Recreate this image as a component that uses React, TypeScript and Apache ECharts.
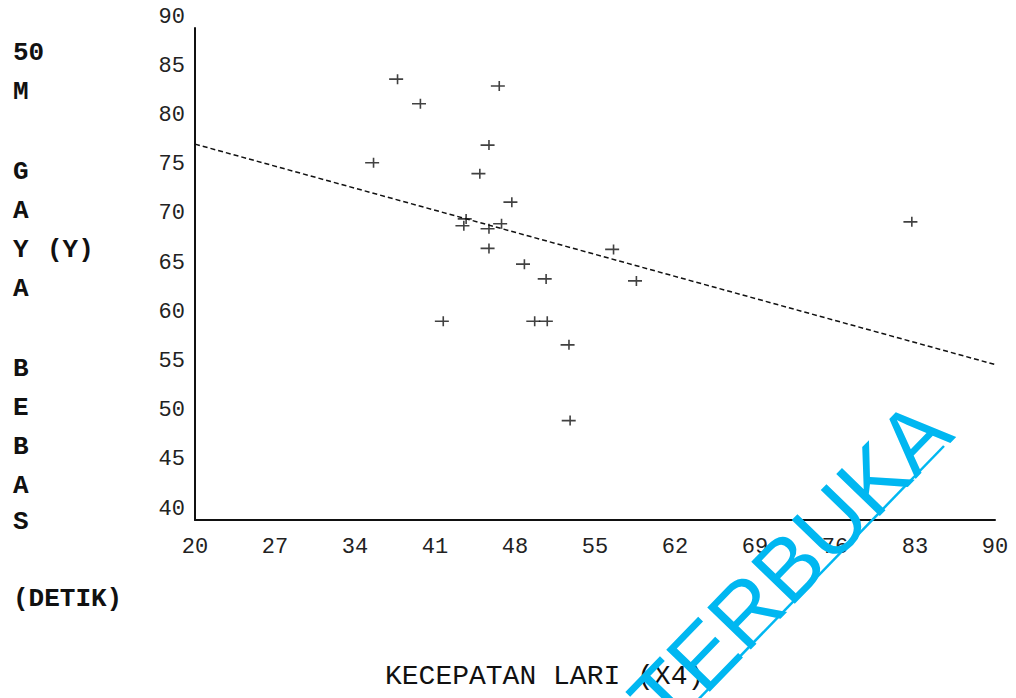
import React, { useEffect, useRef } from "react";
import * as echarts from "echarts";

const xTicks = [20, 27, 34, 41, 48, 55, 62, 69, 76, 83, 90];
const yTicks = [40, 45, 50, 55, 60, 65, 70, 75, 80, 85, 90];

const speedX = [
  37.6, 46.5, 39.6, 45.6, 35.5, 44.8, 47.6, 43.6, 43.4, 45.6, 46.7,
  45.6, 48.7, 50.6, 41.6, 49.6, 50.7, 52.6, 52.7, 56.5, 58.5, 82.6,
];
const swimY = [
  84.8, 84.1, 82.3, 78.1, 76.3, 75.2, 72.3, 70.6, 69.9, 69.6, 70.1,
  67.6, 66.0, 64.5, 60.2, 60.2, 60.2, 57.8, 50.1, 67.5, 64.3, 70.3,
];
const regX = [20, 90];
const regY = [78.2, 55.8];

const leftLetters = [
  { t: "50", y: 52 },
  { t: "M", y: 91 },
  { t: "G", y: 171 },
  { t: "A", y: 210 },
  { t: "Y", y: 249 },
  { t: "A", y: 288 },
  { t: "B", y: 368 },
  { t: "E", y: 407 },
  { t: "B", y: 446 },
  { t: "A", y: 485 },
  { t: "S", y: 521 },
  { t: "(DETIK)", y: 598 },
];

const plusPath =
  "path://M0,4.2L14,4.2L14,5.8L0,5.8Z M7.6,0L9.2,0L9.2,10L7.6,10Z";

export default function App() {
  const ref = useRef<HTMLDivElement>(null);
  useEffect(() => {
    if (!ref.current) return;
    const chart = echarts.init(ref.current, null, { renderer: "svg" });
    const mono = "'Liberation Mono', 'DejaVu Sans Mono', monospace";
    const graphics: any[] = leftLetters.map((l) => ({
      type: "text",
      left: 13,
      top: l.y - 12,
      style: {
        text: l.t,
        font: `bold 26px ${mono}`,
        fill: "#111",
      },
    }));
    graphics.push({
      type: "text",
      left: 47,
      top: 249 - 12,
      style: { text: "(Y)", font: `bold 26px ${mono}`, fill: "#111" },
    });
    graphics.push({
      type: "text",
      left: 385,
      top: 662,
      style: {
        text: "KECEPATAN LARI (X4)",
        font: `28px ${mono}`,
        fill: "#111",
      },
    });
    graphics.push({
      type: "text",
      x: 790,
      y: 565,
      rotation: (46 * Math.PI) / 180,
      style: {
        text: "TERBUKA",
        font: "88px 'Liberation Sans', Arial, sans-serif",
        fill: "#00b7f1",
        textAlign: "center",
        textVerticalAlign: "middle",
      },
      z: 100,
    });
    graphics.push({
      type: "line",
      shape: { x1: 690, y1: 708, x2: 944, y2: 446 },
      style: { stroke: "#00b7f1", lineWidth: 2.5 },
      z: 100,
    });

    chart.setOption({
      animation: false,
      backgroundColor: "#fff",
      grid: { left: 195, right: 21, top: 28, bottom: 178 },
      xAxis: {
        type: "value",
        min: xTicks[0],
        max: xTicks[xTicks.length - 1],
        interval: 7,
        axisLine: { show: true, lineStyle: { color: "#111", width: 2 } },
        axisTick: { show: false },
        splitLine: { show: false },
        axisLabel: {
          margin: 16,
          fontFamily: mono,
          fontSize: 22,
          color: "#222",
          formatter: (v: number) => (xTicks.includes(v) ? String(v) : ""),
        },
      },
      yAxis: {
        type: "value",
        min: yTicks[0],
        max: yTicks[yTicks.length - 1],
        interval: 5,
        axisLine: { show: true, lineStyle: { color: "#111", width: 2 } },
        axisTick: { show: false },
        splitLine: { show: false },
        axisLabel: {
          margin: 10,
          fontFamily: mono,
          fontSize: 22,
          color: "#222",
          verticalAlign: "bottom",
          formatter: (v: number) => (yTicks.includes(v) ? String(v) : ""),
        },
      },
      series: [
        {
          type: "line",
          data: regX.map((x, i) => [x, regY[i]]),
          showSymbol: false,
          lineStyle: { color: "#111", width: 1.5, type: [5, 3] },
        },
        {
          type: "scatter",
          data: speedX.map((x, i) => [x, swimY[i]]),
          symbol: plusPath,
          symbolSize: [14, 10],
          symbolKeepAspect: false,
          itemStyle: { color: "#111" },
        },
      ],
      graphic: graphics,
    });
    return () => chart.dispose();
  }, []);
  return (
    <div
      ref={ref}
      style={{ position: "fixed", left: 0, top: 0, width: 1016, height: 698 }}
    />
  );
}
